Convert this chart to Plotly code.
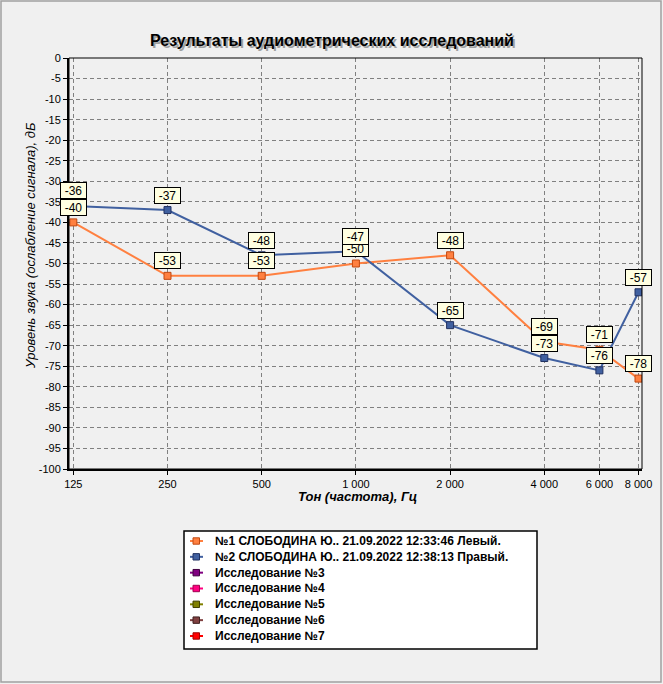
import math
import plotly.graph_objects as go

# ---- data ----
freqs = [125, 250, 500, 1000, 2000, 4000, 6000, 8000]
freq_labels = ["125", "250", "500", "1 000", "2 000", "4 000", "6 000", "8 000"]
left_db = [-40, -53, -53, -50, -48, -69, -71, -78]
right_db = [-36, -37, -48, -47, -65, -73, -76, -57]
series_names = [
    "№1 СЛОБОДИНА Ю.. 21.09.2022 12:33:46 Левый.",
    "№2 СЛОБОДИНА Ю.. 21.09.2022 12:38:13 Правый.",
    "Исследование №3",
    "Исследование №4",
    "Исследование №5",
    "Исследование №6",
    "Исследование №7",
]
series_colors = ["#ff8040", "#4060a0", "#800080", "#ff0080", "#808000", "#804040", "#ff0000"]
series_edges = ["#c04810", "#203060", "#400040", "#a00050", "#404000", "#402020", "#a00000"]
y_ticks = list(range(-100, 1, 5))
title_text = "Результаты аудиометрических исследований"
x_title = "Тон (частота), Гц"
y_title = "Уровень звука (ослабление сигнала), дБ"

W, H = 663, 684
L, R, T, B = 69, 21, 58, 215
PW, PH = W - L - R, H - T - B

def px(x):
    return (x - L) / PW

def py(y):
    return (H - B - y) / PH

FONT = "Liberation Sans, Arial, sans-serif"
BG = "#f0f0f0"

fig = go.Figure()
for vals, i in ((left_db, 0), (right_db, 1)):
    fig.add_trace(go.Scatter(
        x=freqs, y=vals, mode="lines+markers", name=series_names[i],
        line=dict(color=series_colors[i], width=2),
        marker=dict(symbol="square", size=7, color=series_colors[i],
                    line=dict(color=series_edges[i], width=1)),
        showlegend=False, hoverinfo="skip",
    ))

annotations = []
# value labels (annotation x on a log axis is given in log10 units)
for vals in (left_db, right_db):
    for f, v in zip(freqs, vals):
        annotations.append(dict(
            x=math.log10(f), y=v, xref="x", yref="y", text=str(v), showarrow=False,
            yshift=15, width=25, height=15, borderpad=0,
            bgcolor="#ffffe1", bordercolor="black", borderwidth=1,
            font=dict(family=FONT, size=12, color="black"),
        ))

# title with shadow
for dx, dy, col in ((2, -2, "#a0a0a0"), (0, 0, "black")):
    annotations.append(dict(
        x=px(332), y=py(40), xref="paper", yref="paper", text=title_text,
        showarrow=False, xshift=dx, yshift=dy, xanchor="center", yanchor="middle",
        font=dict(family=FONT, size=16, color=col, weight="bold"),
    ))

annotations.append(dict(
    x=px(357), y=py(497), xref="paper", yref="paper", text=x_title,
    showarrow=False, xanchor="center", yanchor="middle",
    font=dict(family=FONT, size=13, color="black", weight="bold", style="italic"),
))
annotations.append(dict(
    x=px(30), y=py(246), xref="paper", yref="paper", text=y_title,
    showarrow=False, xanchor="center", yanchor="middle", textangle=-90,
    font=dict(family=FONT, size=13, color="black", style="italic"),
))

shapes = []
# outer frame
shapes.append(dict(type="rect", xref="paper", yref="paper",
                   x0=px(1), x1=px(661), y0=py(682), y1=py(1),
                   line=dict(color="#a0a0a0", width=1.5), layer="below"))
# plot frame (top / right)
shapes.append(dict(type="rect", xref="paper", yref="paper", x0=0, x1=1, y0=0, y1=1,
                   line=dict(color="black", width=1)))
# legend box
shapes.append(dict(type="rect", xref="paper", yref="paper",
                   x0=px(184), x1=px(537), y0=py(649), y1=py(531),
                   fillcolor="white", line=dict(color="black", width=1.5)))
for i, (name, col, edge) in enumerate(zip(series_names, series_colors, series_edges)):
    cy = 541 + i * 15.83
    shapes.append(dict(type="line", xref="paper", yref="paper",
                       x0=px(190), x1=px(203), y0=py(cy), y1=py(cy),
                       line=dict(color=col, width=2)))
    shapes.append(dict(type="rect", xref="paper", yref="paper",
                       x0=px(193), x1=px(199.5), y0=py(cy + 3.2), y1=py(cy - 3.2),
                       fillcolor=col, line=dict(color=edge, width=1)))
    annotations.append(dict(
        x=px(213), y=py(cy), xref="paper", yref="paper", text=name,
        showarrow=False, xanchor="left", yanchor="middle",
        font=dict(family=FONT, size=12, color="black", weight="bold"),
    ))

fig.update_layout(
    width=W, height=H, autosize=False,
    margin=dict(l=L, r=R, t=T, b=B, pad=0),
    paper_bgcolor=BG, plot_bgcolor=BG,
    showlegend=False,
    annotations=annotations, shapes=shapes,
    xaxis=dict(
        type="log", range=[2.08317, 3.91428],
        tickmode="array", tickvals=freqs, ticktext=freq_labels,
        showgrid=True, gridcolor="#808080", gridwidth=1, griddash="4px,3px",
        showline=True, linecolor="black", linewidth=2,
        ticks="outside", ticklen=4, tickcolor="black",
        tickfont=dict(family=FONT, size=11, color="black"),
        zeroline=False, fixedrange=True,
    ),
    yaxis=dict(
        range=[-100, 0],
        tickmode="array", tickvals=y_ticks, ticktext=[str(v) for v in y_ticks],
        showgrid=True, gridcolor="#808080", gridwidth=1, griddash="4px,3px",
        showline=True, linecolor="black", linewidth=2,
        ticks="outside", ticklen=4, tickcolor="black",
        tickfont=dict(family=FONT, size=11, color="black"),
        zeroline=False, fixedrange=True,
    ),
)

fig.write_html("out.html", config={"displayModeBar": False},
               post_script="document.body.style.margin='0';document.body.style.background='#f0f0f0';")
